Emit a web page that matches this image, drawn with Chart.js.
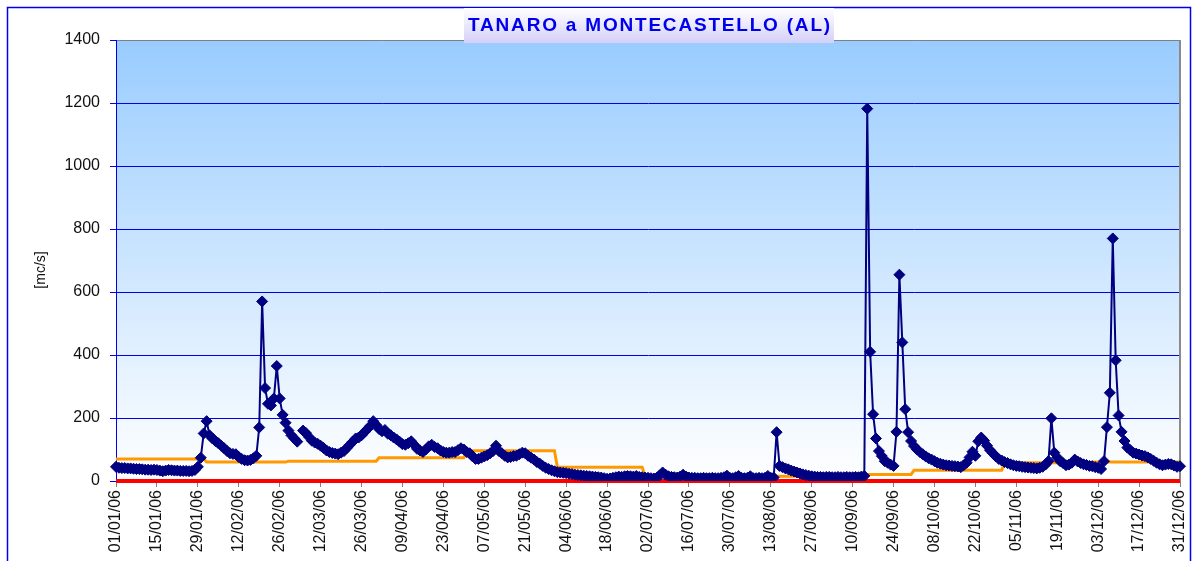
<!DOCTYPE html>
<html>
<head>
<meta charset="utf-8">
<script src="https://cdn.jsdelivr.net/npm/chart.js@4/dist/chart.umd.min.js"></script>
<style>
html, body { margin: 0; padding: 0; background: #fff; }
#wrap { width: 1197px; height: 561px; }
</style>
</head>
<body>
<div id="wrap"><canvas id="myChart" width="1197" height="561"></canvas></div>
<script>
const chart_title = "TANARO a MONTECASTELLO (AL)";
const y_title = "[mc/s]";
const y_ticks = [0, 200, 400, 600, 800, 1000, 1200, 1400];
const year_suffix = "06";
const month_days = [31, 28, 31, 30, 31, 30, 31, 31, 30, 31, 30, 31];
const label_every = 14;

// daily discharge, one array per month
const flow_jan = [45,42,41,41,40,40,39,38,38,37, 36,36,35,36,35,33,31,33,35,34, 33,33,32,32,32,31,32,35,45,74, 151];
const flow_feb = [190,145,135,127,120,112,104,95,88,86, 85,76,70,66,65,67,72,80,170,570, 295,245,240,262,365,262,210,185];
const flow_mar = [160,145,135,125,null,160,152,140,128,122, 118,112,105,97,92,89,87,85,90,95, 105,115,125,135,138,145,155,165,175,190, 178];
const flow_apr = [165,158,162,150,145,138,132,125,117,115, 120,126,115,102,97,92,100,110,115,108, 104,97,92,90,90,92,92,98,104,100];
const flow_may = [92,88,78,70,70,74,78,82,88,95, 112,95,88,80,75,76,79,80,85,90, 88,80,74,68,60,55,48,42,38,34, 31];
const flow_jun = [28,27,26,25,23,22,20,19,18,17, 16,15,14,13,12,11,9,7,8,10, 12,14,13,15,16,15,14,16,13,12];
const flow_jul = [11,10,9,8,10,18,27,20,15,13, 12,11,14,20,14,11,10,10,9,9, 10,9,9,10,9,9,10,12,17,10, 9];
const flow_aug = [12,16,10,9,10,15,9,9,10,9, 10,16,10,11,155,48,44,40,37,33, 30,27,24,21,19,17,15,14,13,13, 12];
const flow_sep = [13,13,12,12,13,12,12,13,12,12, 13,12,14,16,1182,410,212,135,95,79, 63,58,52,48,156,655,440,228,155,127];
const flow_oct = [111,100,92,85,78,72,68,63,58,55, 52,50,49,48,47,46,44,50,58,75, 93,80,126,138,128,112,98,88,78,70, 65];
const flow_nov = [60,57,53,50,48,47,45,44,43,42, 41,40,42,45,52,63,199,90,75,63, 57,50,52,58,68,62,57,53,51,48];
const flow_dec = [47,44,42,38,63,171,280,770,383,208, 156,127,106,98,90,87,84,81,79,75, 70,64,58,53,50,52,54,53,49,45, 47];

// monthly reference level (orange) and zero line (red)
const ref_monthly = [70, 60, 63, 74, 96, 44, 15, 15, 21, 34, 58, 60];
const zero_level = 0;

const flow = [].concat(flow_jan, flow_feb, flow_mar, flow_apr, flow_may, flow_jun,
    flow_jul, flow_aug, flow_sep, flow_oct, flow_nov, flow_dec);

// Build the day labels and the daily orange series from the monthly values.
let labels = [];
let ref_daily = [];
let zero_daily = [];
month_days.forEach((n, m) => {
    for (let d = 1; d <= n; d++) {
        labels.push(String(d).padStart(2, "0") + "/" + String(m + 1).padStart(2, "0") + "/" + year_suffix);
        ref_daily.push(ref_monthly[m]);
        zero_daily.push(zero_level);
    }
});

const font_family = "'Liberation Sans', Arial, sans-serif";

const decor = {
    id: "decor",
    beforeDraw(chart) {
        const ctx = chart.ctx;
        const a = chart.chartArea;
        ctx.save();
        ctx.fillStyle = "#ffffff";
        ctx.fillRect(0, 0, chart.width, chart.height);
        // outer frame
        ctx.strokeStyle = "#0000ee";
        ctx.lineWidth = 1.5;
        ctx.strokeRect(7.5, 7.5, chart.width - 14, chart.height + 20);
        // plot background
        let grad = ctx.createLinearGradient(0, a.top, 0, a.bottom);
        grad.addColorStop(0, "#99ccff");
        grad.addColorStop(1, "#ffffff");
        ctx.fillStyle = grad;
        ctx.fillRect(a.left, a.top, a.right - a.left, a.bottom - a.top);
        ctx.restore();
    },
    beforeDatasetsDraw(chart) {
        const ctx = chart.ctx;
        const a = chart.chartArea;
        ctx.save();
        ctx.strokeStyle = "#8a8a8a";
        ctx.lineWidth = 2;
        ctx.beginPath();
        ctx.moveTo(a.right, a.top);
        ctx.lineTo(a.right, a.bottom);
        ctx.stroke();
        ctx.restore();
    },
    afterDraw(chart) {
        const ctx = chart.ctx;
        const a = chart.chartArea;
        const cx = (a.left + a.right) / 2;
        ctx.save();
        // title box
        let grad = ctx.createLinearGradient(0, 8, 0, 43);
        grad.addColorStop(0, "#ffffff");
        grad.addColorStop(1, "#d4d0f8");
        ctx.fillStyle = grad;
        ctx.fillRect(464, 8, 370, 35);
        ctx.fillStyle = "#0000ee";
        ctx.font = "bold 19px " + font_family;
        ctx.letterSpacing = "1.8px";
        ctx.textAlign = "center";
        ctx.textBaseline = "alphabetic";
        ctx.fillText(chart_title, 650, 31);
        ctx.letterSpacing = "0px";
        // y axis title
        ctx.translate(41, 270);
        ctx.rotate(-Math.PI / 2);
        ctx.fillStyle = "#111111";
        ctx.font = "14px " + font_family;
        ctx.textAlign = "center";
        ctx.textBaseline = "middle";
        ctx.fillText(y_title, 0, 0);
        ctx.restore();
    }
};

new Chart("myChart", {
    type: "line",
    data: {
        labels: labels,
        datasets: [{
            label: "portata",
            data: flow,
            borderColor: "#000080",
            backgroundColor: "#000080",
            borderWidth: 2,
            pointStyle: "rectRot",
            pointRadius: 5.5,
            pointBackgroundColor: "#000080",
            pointBorderColor: "#000080",
            pointBorderWidth: 1,
            spanGaps: false,
            tension: 0
        }, {
            label: "riferimento",
            data: ref_daily,
            borderColor: "#ff9900",
            borderWidth: 3,
            pointRadius: 0,
            tension: 0
        }, {
            label: "zero",
            data: zero_daily,
            borderColor: "#ff0000",
            borderWidth: 4,
            pointRadius: 0,
            clip: false
        }]
    },
    options: {
        responsive: false,
        animation: false,
        devicePixelRatio: 1,
        layout: {padding: {left: 0, right: 17, top: 40, bottom: 0}},
        plugins: {
            legend: {display: false},
            tooltip: {enabled: false}
        },
        scales: {
            x: {
                type: "category",
                offset: false,
                border: {display: false},
                grid: {
                    drawOnChartArea: false,
                    drawTicks: true,
                    tickLength: 6,
                    tickColor: (c) => (c.index % label_every === 0 ? "#808080" : "rgba(0,0,0,0)")
                },
                ticks: {
                    autoSkip: false,
                    maxRotation: 90,
                    minRotation: 90,
                    padding: 3,
                    color: "#111111",
                    font: {family: font_family, size: 16},
                    callback: (v, i) => (i % label_every === 0 ? labels[i] : "")
                },
                afterFit: (s) => {
                    s.height = 80;
                    s.paddingLeft = 0;
                    s.paddingRight = 0;
                }
            },
            y: {
                min: y_ticks[0],
                max: y_ticks[y_ticks.length - 1],
                border: {color: "#0000ee", width: 1},
                grid: {
                    color: (c) => (c.tick && c.tick.value === 1400 ? "#808080" : "#0000ee"),
                    tickColor: "#0000ee",
                    tickLength: 6,
                    lineWidth: 1
                },
                ticks: {
                    stepSize: 200,
                    padding: 10,
                    color: "#111111",
                    font: {family: font_family, size: 16},
                    callback: (v) => String(v)
                },
                afterBuildTicks: (s) => { s.ticks = y_ticks.map((v) => ({value: v})); },
                afterFit: (s) => {
                    s.width = 116;
                    s.paddingTop = 0;
                    s.paddingBottom = 0;
                }
            }
        }
    },
    plugins: [decor]
});
</script>
</body>
</html>
